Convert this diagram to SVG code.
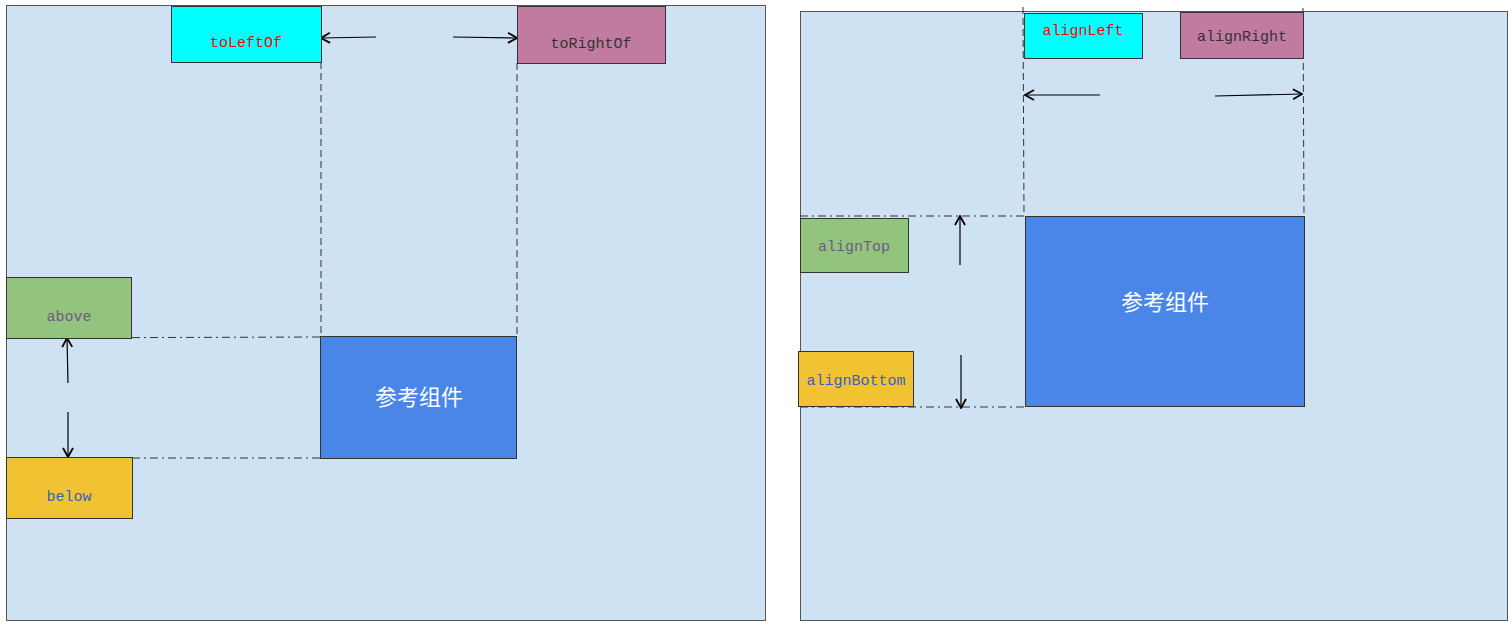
<svg xmlns="http://www.w3.org/2000/svg" width="1512" height="625" viewBox="0 0 1512 625">
<style>
.panel{fill:#CFE2F3;stroke:#555;stroke-width:1}
.node{stroke:#333;stroke-width:1}
.cyan{fill:#00FFFF}
.pink{fill:#C27BA0}
.green{fill:#93C47D}
.yellow{fill:#F1C232}
.ref{fill:#4A86E8}
.t{font-family:"Liberation Mono",monospace;font-size:15px;text-anchor:middle}
.ct{font-family:"Noto Sans CJK SC",sans-serif;font-size:22px;fill:#fff;text-anchor:middle}
.dash{fill:none;stroke:#333;stroke-width:1;stroke-dasharray:7 4}
.dashdot{fill:none;stroke:#333;stroke-width:1;stroke-dasharray:8 4 2 4}
.arr{fill:none;stroke:#000;stroke-width:1.2;marker-end:url(#ah)}
</style>
<defs>
<marker id="ah" viewBox="0 0 12 12" refX="11" refY="6" markerWidth="12" markerHeight="12" markerUnits="userSpaceOnUse" orient="auto">
<path d="M2,1 L11,6 L2,11" fill="none" stroke="#000" stroke-width="1.8"/>
</marker>
</defs>
<rect class="panel" x="6.5" y="5.5" width="759" height="615"/>
<rect class="panel" x="800.5" y="11.5" width="707" height="609"/>
<g id="connectors">
<line class="dash" x1="321" y1="62" x2="321" y2="336"/>
<line class="dash" x1="517" y1="63" x2="517" y2="336"/>
<line class="dashdot" x1="6" y1="338" x2="320" y2="337"/>
<line class="dashdot" x1="132" y1="458" x2="320" y2="458"/>
<line class="arr" x1="376" y1="37" x2="321" y2="38"/>
<line class="arr" x1="453" y1="37" x2="517" y2="38"/>
<line class="arr" x1="68" y1="383" x2="67" y2="338"/>
<line class="arr" x1="68" y1="412" x2="68" y2="457"/>
<line class="dash" x1="1023" y1="7" x2="1024" y2="216"/>
<line class="dash" x1="1303" y1="8" x2="1304" y2="216"/>
<line class="dashdot" x1="800" y1="216" x2="1025" y2="216"/>
<line class="dashdot" x1="800" y1="407" x2="1025" y2="407"/>
<line class="arr" x1="1100" y1="95" x2="1025" y2="95"/>
<line class="arr" x1="1215" y1="96" x2="1302" y2="94"/>
<line class="arr" x1="960" y1="265" x2="960" y2="216"/>
<line class="arr" x1="961" y1="355" x2="961" y2="408"/>
</g>
<g id="toLeftOf"><rect class="node cyan" x="171.5" y="6.5" width="150" height="56"/><text class="t" x="246" y="47" fill="#FF0000">toLeftOf</text></g>
<g id="toRightOf"><rect class="node pink" x="517.5" y="6.5" width="148" height="57"/><text class="t" x="591" y="48" fill="#333">toRightOf</text></g>
<g id="above"><rect class="node green" x="6.5" y="277.5" width="125" height="61"/><text class="t" x="69" y="321" fill="#6B5A86">above</text></g>
<g id="below"><rect class="node yellow" x="6.5" y="457.5" width="126" height="61"/><text class="t" x="69" y="501" fill="#3C5FBF">below</text></g>
<g id="ref1"><rect class="node ref" x="320.5" y="336.5" width="196" height="122"/><text class="ct" x="419" y="405">参考组件</text></g>
<g id="alignLeft"><rect class="node cyan" x="1024.5" y="13.5" width="118" height="45"/><text class="t" x="1083" y="35" fill="#FF0000">alignLeft</text></g>
<g id="alignRight"><rect class="node pink" x="1180.5" y="12.5" width="123" height="46"/><text class="t" x="1242" y="41" fill="#333">alignRight</text></g>
<g id="alignTop"><rect class="node green" x="800.5" y="218.5" width="108" height="54"/><text class="t" x="854" y="251" fill="#6B5A86">alignTop</text></g>
<g id="alignBottom"><rect class="node yellow" x="798.5" y="351.5" width="115" height="55"/><text class="t" x="856" y="385" fill="#3C5FBF">alignBottom</text></g>
<g id="ref2"><rect class="node ref" x="1025.5" y="216.5" width="279" height="190"/><text class="ct" x="1165" y="310">参考组件</text></g>
</svg>
